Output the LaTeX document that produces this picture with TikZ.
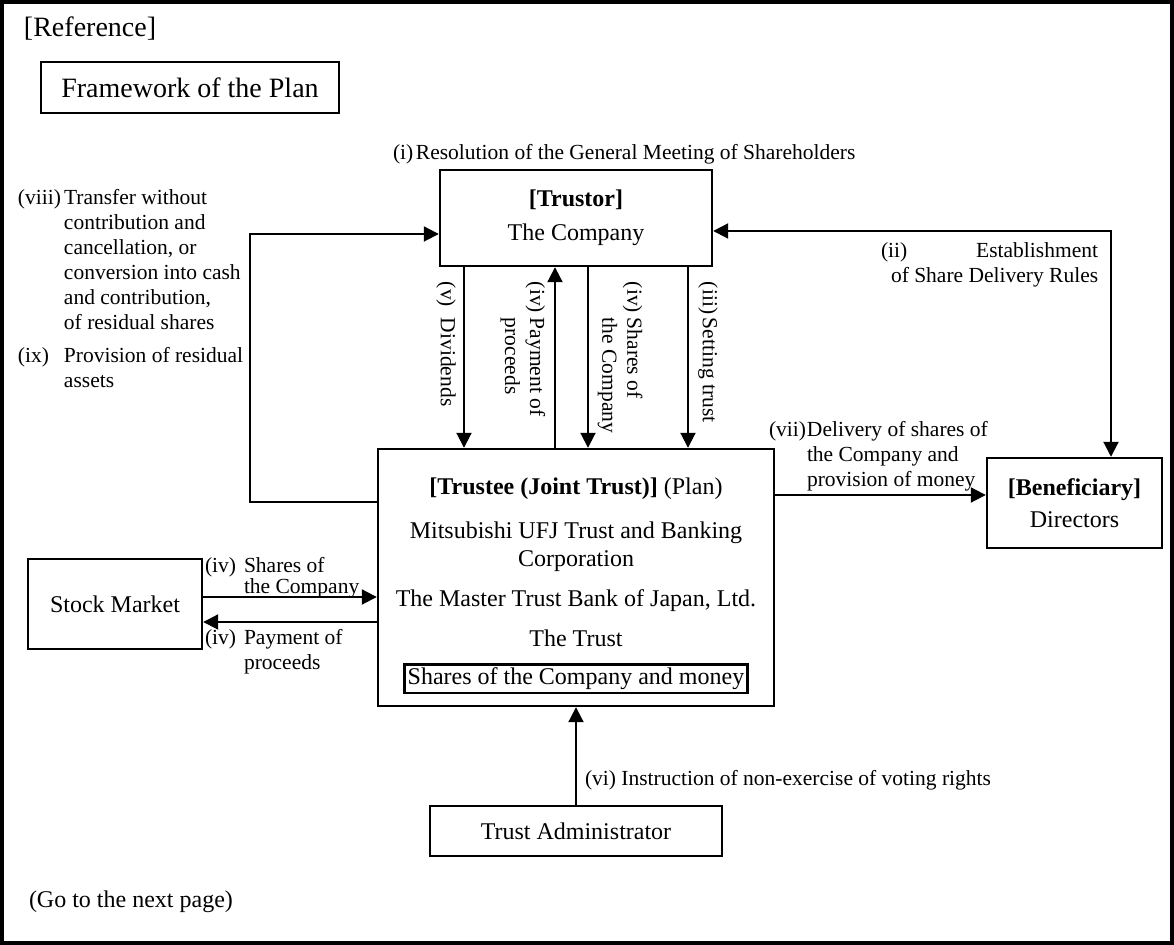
\documentclass[tikz,border=0pt]{standalone}
\usepackage{fontspec}
\setmainfont{Liberation Serif}
\usetikzlibrary{arrows.meta}
\newcommand{\boxfont}{\fontsize{12}{13.5}\selectfont}
\newcommand{\lblfont}{\fontsize{10.75}{12.5}\selectfont}
\newcommand{\headfont}{\fontsize{14}{16}\selectfont}
\setlength{\fboxsep}{1pt}
\setlength{\fboxrule}{1.2pt}
\tikzset{
  box/.style = {draw, line width=1.2pt, inner sep=0pt, align=center,
    font=\boxfont},
  lbl/.style = {inner sep=0pt, align=left, font=\lblfont},
  rot/.style = {lbl, rotate=-90, anchor=west}
}
\begin{document}
\begin{tikzpicture}[x=0.5pt, y=-0.5pt, ->, >={Triangle[length=7.5pt,width=7.5pt]}, line width=1pt]
\useasboundingbox (0,0) rectangle (1174,945);
\draw [-, line width=2pt] (2,2) rectangle (1172,943);

\node [lbl, font=\headfont, anchor=base west] (ref) at (23,37) {[Reference]};
\node [box, font=\headfont, line width=0.8pt, minimum width=149pt, minimum height=25.5pt] (plan) at (190,87.5) {Framework of the Plan};

% boxes
\node [box, minimum width=136pt, minimum height=48pt] (trustor) at (576,218) {\textbf{[Trustor]}\\[3.5pt]The Company};
\node [box, minimum width=198pt, minimum height=128.5pt] (trustee) at (576,577.5)
  {\rule{0pt}{17pt}\textbf{[Trustee (Joint Trust)]} (Plan)\\[8.5pt]
   Mitsubishi UFJ Trust and Banking\\[0.5pt]
   Corporation\\[6.5pt]
   The Master Trust Bank of Japan, Ltd.\\[6.5pt]
   The Trust\\[5.5pt]
   \fbox{Shares of the Company and money}};
\node [box, minimum width=87.5pt, minimum height=45pt] (benef) at (1074.5,503) {\textbf{[Beneficiary]}\\[2.5pt]Directors};
\node [box, minimum width=87pt, minimum height=45pt] (stock) at (115,604) {Stock Market};
\node [box, minimum width=146pt, minimum height=25pt] (admin) at (576,831) {Trust Administrator};

% labels
\node [lbl, anchor=base west] (resol) at (392,160) {\makebox[11.5pt][l]{(i)}Resolution of the General Meeting of Shareholders};
\node [lbl, anchor=north west] (resid) at (17,188)
  {\makebox[23pt][l]{(viii)}Transfer without\\
   \hspace*{23pt}contribution and\\
   \hspace*{23pt}cancellation, or\\
   \hspace*{23pt}conversion into cash\\
   \hspace*{23pt}and contribution,\\
   \hspace*{23pt}of residual shares\\[4pt]
   \makebox[23pt][l]{(ix)}Provision of residual\\
   \hspace*{23pt}assets};
\node [lbl, anchor=north west] (rules) at (880,242)
  {\makebox[108.5pt][l]{(ii)\hfill Establishment}\\
   \hspace*{5pt}of Share Delivery Rules};
\node [lbl, anchor=north west] (deliv) at (768,420)
  {\makebox[19pt][l]{(vii)}Delivery of shares of\\
   \hspace*{19pt}the Company and\\
   \hspace*{19pt}provision of money};
\node [lbl, anchor=north west] (buy) at (204,556)
  {\makebox[19.5pt][l]{(iv)}Shares of\\[-2pt]
   \hspace*{19.5pt}the Company};
\node [lbl, anchor=north west] (sell) at (204,628)
  {\makebox[19.5pt][l]{(iv)}Payment of\\
   \hspace*{19.5pt}proceeds};
\node [rot] (divid) at (446,281) {\makebox[18pt][l]{(v)}Dividends};
\node [rot] (proc) at (523,281) {\makebox[18pt][l]{(iv)}Payment of\\ \hspace*{18pt}proceeds};
\node [rot] (shares) at (620,281) {\makebox[18pt][l]{(iv)}Shares of\\ \hspace*{18pt}the Company};
\node [rot] (setting) at (708,281) {\makebox[18pt][l]{(iii)}Setting trust};
\node [lbl, anchor=base west] (vote) at (584,786) {(vi) Instruction of non-exercise of voting rights};
\node [lbl, font=\boxfont, anchor=base west] (next) at (28,908) {(Go to the next page)};

% connectors
\draw ([xshift=-56pt]trustor.south) -- ([xshift=-56pt]trustee.north);
\draw ([xshift=-10.5pt]trustee.north) -- ([xshift=-10.5pt]trustor.south);
\draw ([xshift=6pt]trustor.south) -- ([xshift=6pt]trustee.north);
\draw ([xshift=56pt]trustor.south) -- ([xshift=56pt]trustee.north);
\coordinate (bend) at (250,502);
\draw (trustee.west |- bend) -- (bend) |- ([yshift=-8pt]trustor.west);
\draw [<->] ([yshift=-6.5pt]trustor.east) -| ([xshift=18.25pt]benef.north);
\draw ([yshift=41.25pt]trustee.east) -- ([yshift=41.25pt]trustee.east -| benef.west);
\draw ([yshift=3.5pt]stock.east) -- ([yshift=3.5pt]stock.east -| trustee.west);
\draw ([yshift=-9pt]stock.east -| trustee.west) -- ([yshift=-9pt]stock.east);
\draw (admin.north) -- (trustee.south);
\end{tikzpicture}
\end{document}
